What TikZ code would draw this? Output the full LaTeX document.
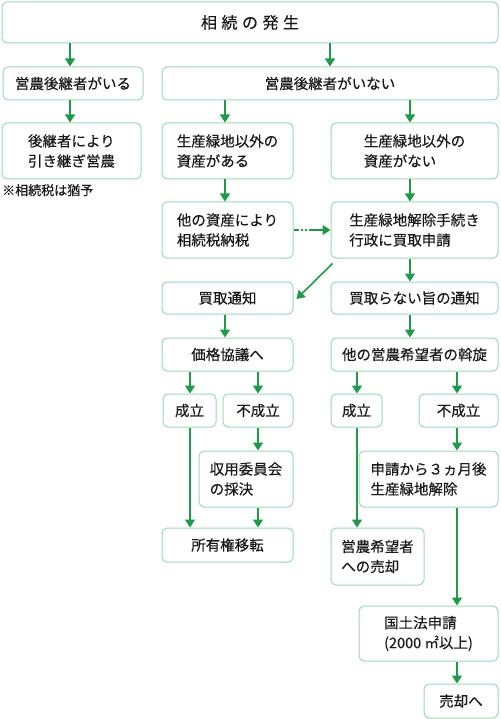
\documentclass[tikz,border=0pt]{standalone}
\usepackage{fontspec}
\setmainfont{Noto Sans CJK JP}[FakeBold=0.35]
\usetikzlibrary{arrows.meta}
\definecolor{bd}{HTML}{9ED9B4}
\definecolor{ar}{HTML}{1E9A4A}
\definecolor{tx}{HTML}{1A1A1A}
\tikzset{
  box/.style={draw=bd, line width=1pt, rounded corners=5pt, fill=white, text=tx,
    inner sep=0pt, align=left, font=\fontsize{14.5}{20}\selectfont},
  arr/.style={draw=ar, line width=1.6pt, -{Triangle[width=10pt,length=8pt]}},
  notetext/.style={text=tx, inner sep=0pt, font=\fontsize{13}{16}\selectfont}
}
\begin{document}
\begin{tikzpicture}[x=1pt,y=-1pt]
\fill[white] (0,0) rectangle (500,719);
\useasboundingbox (0,0) rectangle (500,719);
\coordinate (colA) at (70,0);
\coordinate (colB) at (225,0);
\coordinate (colM) at (330,0);
\coordinate (colR) at (410,0);
\coordinate (colS1) at (190,0);
\coordinate (colF1) at (258,0);
\coordinate (colS2) at (357,0);
\coordinate (colRR) at (457,0);
% nodes
\node[box, minimum width=496pt, minimum height=41pt, font=\fontsize{16}{20}\selectfont] (top) at (250,22.5) {相\hspace{4.5pt}続\hspace{4.5pt}の\hspace{4.5pt}発\hspace{4.5pt}生};
\node[box, minimum width=140pt, minimum height=33pt] (succ) at (73,83.5) {営農後継者がいる};
\node[box, minimum width=336pt, minimum height=33pt] (nosucc) at (330,83.5) {営農後継者がいない};
\node[box, minimum width=139pt, minimum height=56pt] (hiki) at (71.5,151) {後継者により\\引き継ぎ営農};
\node[notetext, anchor=north west] (note) at (2,184) {※相続税は猶予};
\node[box, minimum width=131pt, minimum height=56pt] (aru) at (227.5,151) {生産緑地以外の\\資産がある};
\node[box, minimum width=167pt, minimum height=56pt] (nai) at (414.5,151) {生産緑地以外の\\資産がない};
\node[box, minimum width=131pt, minimum height=56pt] (tano) at (227.5,230) {他の資産により\\相続税納税};
\node[box, minimum width=167pt, minimum height=56pt] (kaijo) at (414.5,230) {生産緑地解除手続き\\行政に買取申請};
\node[box, minimum width=131pt, minimum height=32pt] (kaitori) at (227.5,298) {買取通知};
\node[box, minimum width=167pt, minimum height=32pt] (kaitoranai) at (414.5,298) {買取らない旨の通知};
\node[box, minimum width=131pt, minimum height=33pt] (kakaku) at (227.5,354.5) {価格協議へ};
\node[box, minimum width=167pt, minimum height=33pt] (assen) at (414.5,354.5) {他の営農希望者の斡旋};
\node[box, minimum width=53pt, minimum height=33pt] (sei1) at (189.5,410.5) {成立};
\node[box, minimum width=70pt, minimum height=33pt] (fus1) at (258,410.5) {不成立};
\node[box, minimum width=51pt, minimum height=33pt] (sei2) at (356.5,410.5) {成立};
\node[box, minimum width=79pt, minimum height=33pt] (fus2) at (458.5,410.5) {不成立};
\node[box, minimum width=94pt, minimum height=56pt] (shuyo) at (246,479) {収用委員会\\の採決};
\node[box, minimum width=131pt, minimum height=34pt] (shoyu) at (227.5,545) {所有権移転};
\node[box, minimum width=139pt, minimum height=56pt] (san) at (428.5,479) {申請から３ヵ月後\\生産緑地解除};
\node[box, minimum width=93pt, minimum height=57pt] (baik) at (377.5,556.5) {営農希望者\\への売却};
\node[box, minimum width=139pt, minimum height=55pt] (kokudo) at (428.5,633.5) {国土法申請\\(2000 ㎡以上)};
\node[box, minimum width=74pt, minimum height=34pt] (uri) at (461,701) {売却へ};
% arrows
\draw[arr] (top.south -| colA) -- (succ.north -| colA);
\draw[arr] (top.south -| colM) -- (nosucc.north -| colM);
\draw[arr] (succ.south -| colA) -- (hiki.north -| colA);
\draw[arr] (nosucc.south -| colB) -- (aru.north -| colB);
\draw[arr] (nosucc.south -| colR) -- (nai.north -| colR);
\draw[arr] (aru.south -| colB) -- (tano.north -| colB);
\draw[arr] (nai.south -| colR) -- (kaijo.north -| colR);
\draw[arr, dash pattern=on 5pt off 2pt on 2pt off 2pt on 2pt off 2pt on 60pt] (tano.east) -- (kaijo.west);
\draw[arr] ([shift={(2,5)}]kaijo.south west) -- ([shift={(3,1)}]kaitori.east);
\draw[arr] (kaijo.south -| colR) -- (kaitoranai.north -| colR);
\draw[arr] (kaitori.south -| colB) -- (kakaku.north -| colB);
\draw[arr] (kaitoranai.south -| colR) -- (assen.north -| colR);
\draw[arr] (kakaku.south -| colS1) -- (sei1.north -| colS1);
\draw[arr] (kakaku.south -| colF1) -- (fus1.north -| colF1);
\draw[arr] (assen.south -| colS2) -- (sei2.north -| colS2);
\draw[arr] (assen.south -| colRR) -- (fus2.north -| colRR);
\draw[arr] (fus1.south -| colF1) -- (shuyo.north -| colF1);
\draw[arr] (sei1.south -| colS1) -- (shoyu.north -| colS1);
\draw[arr] (shuyo.south -| colF1) -- (shoyu.north -| colF1);
\draw[arr] (sei2.south -| colS2) -- (baik.north -| colS2);
\draw[arr] (fus2.south -| colRR) -- (san.north -| colRR);
\draw[arr] (san.south -| colRR) -- (kokudo.north -| colRR);
\draw[arr] (kokudo.south -| colRR) -- (uri.north -| colRR);
\end{tikzpicture}
\end{document}
